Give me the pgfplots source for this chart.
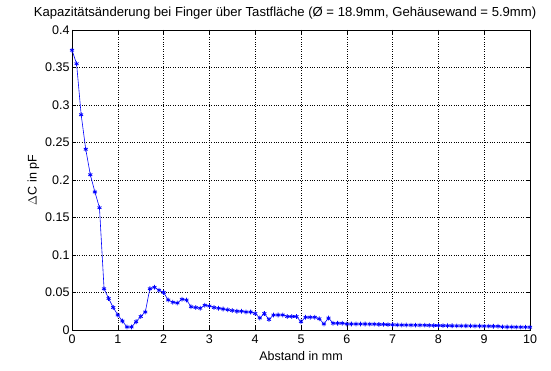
\documentclass[border=0pt]{standalone}
\usepackage{pgfplots}
\pgfplotsset{compat=1.18}
\usepackage{fontspec}
\setmainfont{Liberation Sans}
\pgfplotstableread{
x y
0 0.373
0.1 0.355
0.2 0.287
0.3 0.241
0.4 0.207
0.5 0.184
0.6 0.163
0.7 0.055
0.8 0.042
0.9 0.030
1.0 0.020
1.1 0.012
1.2 0.004
1.3 0.004
1.4 0.011
1.5 0.018
1.6 0.024
1.7 0.055
1.8 0.057
1.9 0.053
2.0 0.050
2.1 0.040
2.2 0.037
2.3 0.036
2.4 0.041
2.5 0.040
2.6 0.031
2.7 0.030
2.8 0.029
2.9 0.033
3.0 0.032
3.1 0.030
3.2 0.029
3.3 0.028
3.4 0.027
3.5 0.026
3.6 0.025
3.7 0.025
3.8 0.024
3.9 0.024
4.0 0.022
4.1 0.016
4.2 0.022
4.3 0.014
4.4 0.020
4.5 0.020
4.6 0.020
4.7 0.018
4.8 0.018
4.9 0.018
5.0 0.011
5.1 0.017
5.2 0.017
5.3 0.017
5.4 0.015
5.5 0.008
5.6 0.016
5.7 0.009
5.8 0.009
5.9 0.009
6.0 0.008
6.1 0.008
6.2 0.008
6.3 0.008
6.4 0.008
6.5 0.0078
6.6 0.0078
6.7 0.0075
6.8 0.0075
6.9 0.0072
7.0 0.007
7.1 0.0068
7.2 0.0066
7.3 0.0066
7.4 0.0065
7.5 0.0065
7.6 0.0064
7.7 0.0064
7.8 0.0062
7.9 0.006
8.0 0.006
8.1 0.0058
8.2 0.0057
8.3 0.0056
8.4 0.0055
8.5 0.0055
8.6 0.0054
8.7 0.0054
8.8 0.0053
8.9 0.0053
9.0 0.0052
9.1 0.0051
9.2 0.005
9.3 0.005
9.4 0.0042
9.5 0.004
9.6 0.004
9.7 0.0039
9.8 0.0038
9.9 0.0038
10.0 0.0037
}\datatable
\begin{document}
\begin{tikzpicture}
\useasboundingbox (-72pt,-41pt) rectangle (479pt,330pt);
\begin{axis}[
  scale only axis,
  width=458pt, height=300pt,
  xmin=0, xmax=10, ymin=0, ymax=0.4,
  xtick={0,1,...,10},
  ytick={0,0.05,0.1,0.15,0.2,0.25,0.3,0.35,0.4},
  yticklabels={0,0.05,0.1,0.15,0.2,0.25,0.3,0.35,0.4},
  tick align=inside,
  major tick length=4pt,
  grid=major,
  major grid style={black, dotted, line width=0.6pt},
  axis line style={black, line width=0.5pt},
  tick style={black, line width=0.5pt},
  /pgf/number format/assume math mode=true,
  tick label style={font=\fontsize{12.5}{14}\selectfont},
  yticklabel style={xshift=1pt},
  xticklabel style={yshift=-1pt},
  label style={font=\fontsize{12.5}{14}\selectfont},
  title style={font=\fontsize{13.1}{15}\selectfont, yshift=1pt, xshift=-16pt},
  title={Kapazitätsänderung bei Finger über Tastfläche (Ø = 18.9mm, Gehäusewand = 5.9mm)},
  xlabel={Abstand in mm},
  ylabel={$\Delta$C in pF},
  xlabel style={yshift=-1pt},
  ylabel style={yshift=-1pt},
]
\addplot[blue, line width=0.6pt, mark=asterisk, mark size=2.3pt, mark options={line width=0.8pt}] table[x=x,y=y] {\datatable};
\end{axis}
\end{tikzpicture}
\end{document}
